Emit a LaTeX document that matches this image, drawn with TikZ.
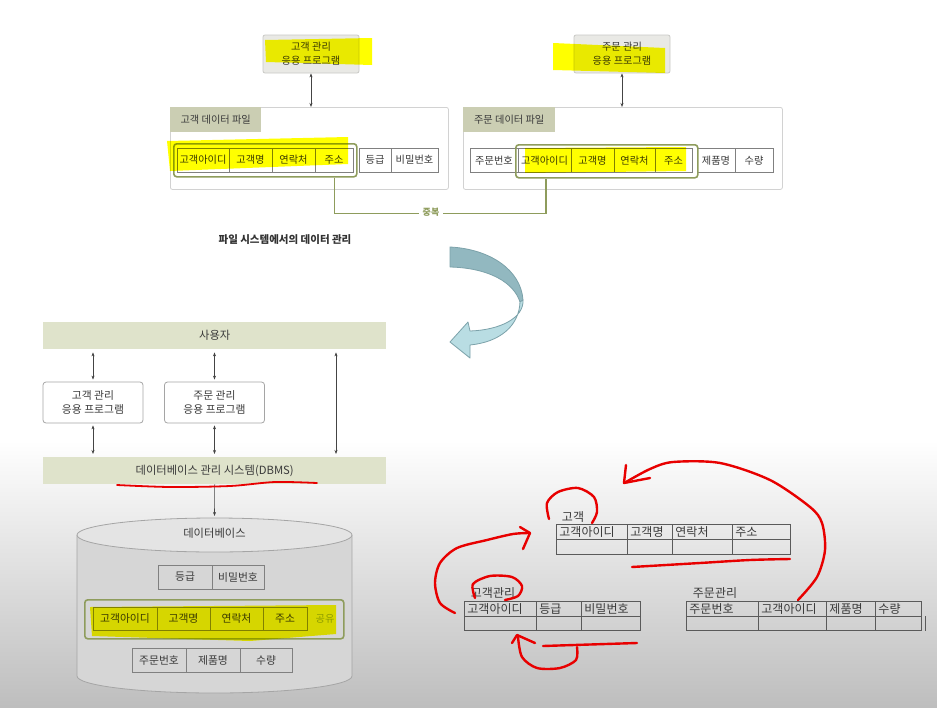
\documentclass[tikz,border=0pt]{standalone}
\usepackage{fontspec}
\newfontfamily\kr{Noto Sans CJK KR}
\usetikzlibrary{arrows.meta}
\definecolor{olivec}{HTML}{8E9C5C}
\definecolor{tabfill}{HTML}{CBCEB3}
\definecolor{barfill}{HTML}{DFE3CB}
\definecolor{appfill}{HTML}{E9E9E5}
\definecolor{appline}{HTML}{C9C9C6}
\definecolor{contline}{HTML}{D2D2D2}
\definecolor{txt}{HTML}{3A3A3A}
\definecolor{cellline}{HTML}{808080}
\definecolor{hlyellow}{HTML}{FFFF00}
\definecolor{penred}{HTML}{E80000}
\definecolor{arrowc}{HTML}{444444}
\definecolor{bgbot}{HTML}{BEBEBE}
\definecolor{cylside}{HTML}{D6D6D6}
\definecolor{cyltop}{HTML}{E4E4E4}
\definecolor{cylline}{HTML}{A5A5A5}
\definecolor{tealdark}{HTML}{92B8C0}
\definecolor{teallight}{HTML}{B9DDE3}
\definecolor{tealline}{HTML}{7CA2AA}
\definecolor{tline}{HTML}{5A5A5A}
\newcommand\fsA{\fontsize{10.2}{14}\selectfont}
\newcommand\fsB{\fontsize{10.8}{14.5}\selectfont}
\newcommand\fsC{\fontsize{12}{13}\selectfont}
\newcommand\fsD{\fontsize{11.3}{13}\selectfont}
\begin{document}
\begin{tikzpicture}[x=1pt,y=-1pt,
  every node/.style={font=\kr\fsA, text=txt},
  appbox/.style={draw=appline, fill=appfill, rounded corners=2, minimum width=96, minimum height=38, align=center, line width=0.8, inner sep=0},
  appbox2/.style={draw=cylline, fill=white, rounded corners=3, minimum width=100, minimum height=41, align=center, line width=0.8, inner sep=0, font=\kr\fsB},
  container/.style={draw=contline, fill=white, rounded corners=2, line width=0.8, inner sep=0},
  tabbox/.style={fill=tabfill, minimum width=91, minimum height=25, inner sep=0},
  cell/.style={draw=cellline, line width=0.8, minimum height=24, inner sep=0},
  dbcell/.style={draw=cellline, line width=0.8, minimum height=24, inner sep=0, font=\kr\fsB},
  grp/.style={draw=olivec, line width=1.6, rounded corners=3, inner sep=0},
  bar/.style={fill=barfill, minimum width=343, minimum height=27, inner sep=0, font=\kr\fsD, anchor=north west},
  dbl/.style={{Stealth[length=4pt,width=3pt]}-{Stealth[length=4pt,width=3pt]}, draw=arrowc, line width=0.6},
  sgl/.style={-{Stealth[length=4pt,width=3pt]}, draw=arrowc, line width=0.6},
  hl/.style={fill=hlyellow},
  pen/.style={draw=penred, line width=2.4, line cap=round, line join=round},
  tcell/.style={draw=tline, line width=0.9, minimum height=15, inner ysep=0, inner xsep=3, align=left, font=\kr\fsC, anchor=north west},
  tlabel/.style={font=\kr\fsC, inner sep=0}
]
\useasboundingbox (0,0) rectangle (937,707);
\fill[white] (0,0) rectangle (937,707);
\fill[top color=white, bottom color=bgbot] (0,440) rectangle (937,707);

% ---------- top left ----------
\node[appbox] (appL) at (311,54) {고객 관리\\응용 프로그램};
\node[container, minimum width=278, minimum height=82, anchor=north west] (cL) at (170,107) {};
\node[tabbox, anchor=north west] (tL) at (170,107) {고객 데이터 파일};
\draw[dbl] (appL.south) -- (appL.south |- cL.north);
\node[cell, minimum width=52] (l1) at (203,160) {고객아이디};
\node[cell, minimum width=43] (l2) at (250.5,160) {고객명};
\node[cell, minimum width=43] (l3) at (293.5,160) {연락처};
\node[cell, minimum width=38] (l4) at (334,160) {주소};
\node[cell, minimum width=32] (l5) at (375,160) {등급};
\node[cell, minimum width=47] (l6) at (414.5,160) {비밀번호};
\node[grp, minimum width=183, minimum height=33, anchor=north west] (gL) at (173,143) {};

% ---------- top right ----------
\node[appbox] (appR) at (622,54) {주문 관리\\응용 프로그램};
\node[container, minimum width=319, minimum height=82, anchor=north west] (cR) at (463,107) {};
\node[tabbox, minimum width=92, anchor=north west] (tR) at (463,107) {주문 데이터 파일};
\draw[dbl] (appR.south) -- (appR.south |- cR.north);
\node[cell, minimum width=48] (r1) at (494,160.5) {주문번호};
\node[cell, minimum width=53] (r2) at (544.5,160.5) {고객아이디};
\node[cell, minimum width=43] (r3) at (592.5,160.5) {고객명};
\node[cell, minimum width=41] (r4) at (634.5,160.5) {연락처};
\node[cell, minimum width=37] (r5) at (673.5,160.5) {주소};
\node[cell, minimum width=38] (r6) at (716,160.5) {제품명};
\node[cell, minimum width=38] (r7) at (754,160.5) {수량};
\node[grp, minimum width=182, minimum height=33, anchor=north west] (gR) at (515,144) {};

% duplication connector
\draw[olivec, line width=1.6] ([xshift=69]gL.south) -- ++(0,36) -| ([xshift=-61]gR.south);
\node[fill=white, text=olivec, font=\kr\bfseries\fontsize{9}{10}\selectfont, inner sep=4] (dup) at (431,212) {중복};

\node[font=\kr\bfseries\fontsize{10.5}{12}\selectfont, text=black!80] (cap) at (285,240) {파일 시스템에서의 데이터 관리};

% highlights top
\begin{scope}[blend mode=multiply]
\fill[hl] (265,40) -- (372,38) -- (372,65) -- (266,62) -- cycle;
\fill[hl] (167,141) -- (348,137) -- (348,164) -- (170,171) -- cycle;
\fill[hl] (553,43) -- (665,48) -- (665,73) -- (553,70) -- cycle;
\fill[hl] (525,148) -- (686,147) -- (686,171) -- (525,173) -- cycle;
\end{scope}

% ---------- teal curved arrow ----------
\fill[tealdark, draw=tealline, line width=0.8, line join=round]
  (450,247) .. controls (490,249) and (521,270) .. (523,300)
  -- (520,302) .. controls (514,283) and (490,268) .. (450,267) -- cycle;
\fill[teallight, draw=tealline, line width=0.8, line join=round]
  (523,300) .. controls (524,318) and (500,330) .. (470,331)
  -- (468,322) -- (450,342) -- (470,358) -- (470,345)
  .. controls (500,342) and (519,326) .. (520,302) -- cycle;

% ---------- bottom left ----------
\node[bar] (user) at (43,322) {사용자};
\node[appbox2] (appA) at (93,402.5) {고객 관리\\응용 프로그램};
\node[appbox2] (appB) at (214.5,402.5) {주문 관리\\응용 프로그램};
\node[bar] (dbms) at (43,457) {데이터베이스 관리 시스템(DBMS)};
\coordinate (rx) at (336,0);
\draw[dbl, shorten <=3, shorten >=2] (user.south -| appA.north) -- (appA.north);
\draw[dbl, shorten <=3, shorten >=2] (user.south -| appB.north) -- (appB.north);
\draw[dbl, shorten <=2, shorten >=3] (appA.south) -- (dbms.north -| appA.south);
\draw[dbl, shorten <=2, shorten >=3] (appB.south) -- (dbms.north -| appB.south);
\draw[dbl, shorten <=3, shorten >=3] (user.south -| rx) -- (dbms.north -| rx);

% cylinder
\fill[cylside] (77,535) rectangle (352,676);
\fill[cylside] (214.5,676) ellipse[x radius=137.5, y radius=17];
\draw[cylline, line width=0.8] (77,535) -- (77,676) arc[start angle=180, end angle=0, x radius=137.5, y radius=17] -- (352,535);
\filldraw[fill=cyltop, draw=cylline, line width=0.8] (214.5,535) ellipse[x radius=137.5, y radius=17];
\coordinate (dbtop) at (214.5,516);
\draw[sgl] (dbms.south) -- (dbtop);
\node[font=\kr\fsD] (dbl) at (214.5,533) {데이터베이스};

\node[dbcell, minimum width=54] (d1) at (185,577) {등급};
\node[dbcell, minimum width=52] (d2) at (238,577) {비밀번호};
\node[dbcell, minimum width=64, minimum height=23] (d3) at (125,618.5) {고객아이디};
\node[dbcell, minimum width=53, minimum height=23] (d4) at (183.5,618.5) {고객명};
\node[dbcell, minimum width=53, minimum height=23] (d5) at (236.5,618.5) {연락처};
\node[dbcell, minimum width=44, minimum height=23] (d6) at (285,618.5) {주소};
\node[grp, minimum width=259, minimum height=39, anchor=north west] (gD) at (84,599) {};
\node[text=olivec, font=\kr\fsA] (share) at (325,619) {공유};
\node[dbcell, minimum width=54] (d7) at (159,660) {주문번호};
\node[dbcell, minimum width=54] (d8) at (213,660) {제품명};
\node[dbcell, minimum width=52] (d9) at (266,660) {수량};

\begin{scope}[blend mode=multiply]
\fill[hl] (90,607) -- (336,605) -- (336,634) -- (250,641) -- (92,636) -- cycle;
\end{scope}

% ---------- bottom right tables ----------
\node[tlabel] (tg) at (573,517) {고객};
\node[tcell, text width=65pt] (g1) at (556,524) {고객아이디};
\node[tcell, text width=39pt] (g2) at (627,524) {고객명};
\node[tcell, text width=54pt] (g3) at (672,524) {연락처};
\node[tcell, text width=52pt] (g4) at (732,524) {주소};
\node[tcell, text width=65pt] (g5) at (556,539) {};
\node[tcell, text width=39pt] (g6) at (627,539) {};
\node[tcell, text width=54pt] (g7) at (672,539) {};
\node[tcell, text width=52pt] (g8) at (732,539) {};

\node[tlabel] (tk) at (493,593) {고객관리};
\node[tcell, text width=66pt] (k1) at (464,601) {고객아이디};
\node[tcell, text width=39pt] (k2) at (536,601) {등급};
\node[tcell, text width=53pt] (k3) at (581,601) {비밀번호};
\node[tcell, text width=66pt, minimum height=14] (k4) at (464,616) {};
\node[tcell, text width=39pt, minimum height=14] (k5) at (536,616) {};
\node[tcell, text width=53pt, minimum height=14] (k6) at (581,616) {};

\node[tlabel] (tj) at (715,593) {주문관리};
\node[tcell, text width=66pt] (j1) at (686,601) {주문번호};
\node[tcell, text width=62pt] (j2) at (758,601) {고객아이디};
\node[tcell, text width=43pt] (j3) at (826,601) {제품명};
\node[tcell, text width=40pt] (j4) at (875,601) {수량};
\node[tcell, text width=66pt, minimum height=14] (j5) at (686,616) {};
\node[tcell, text width=62pt, minimum height=14] (j6) at (758,616) {};
\node[tcell, text width=43pt, minimum height=14] (j7) at (826,616) {};
\node[tcell, text width=40pt, minimum height=14] (j8) at (875,616) {};
\draw[tline, line width=0.8] ([xshift=3]j8.north east) -- ([xshift=3]j8.south east);

% ---------- red pen marks ----------
\draw[pen, line width=1.8] plot[smooth] coordinates {(117,485) (170,487) (230,486) (275,482) (317,483)};
\draw[pen] plot[smooth] coordinates {(549,519) (547,503) (558,492) (578,488) (594,497) (597,512) (592,523)};
\draw[pen] plot[smooth] coordinates {(475,598) (473,584) (490,576) (512,577) (522,586) (518,596) (505,600)};
\draw[pen] plot[smooth] coordinates {(632,567) (700,563) (750,560) (790,559)};
\draw[pen] plot[smooth] coordinates {(798,600) (817,577) (825,550) (822,523) (810,507) (770,480) (720,463) (673,462) (650,469) (626,482)};
\draw[pen] (626,465) -- (624,483) -- (650,478);
\draw[pen] plot[smooth] coordinates {(455,613) (440,603) (435,583) (440,563) (457,548) (487,540) (513,534) (530,533)};
\draw[pen] (520,527) -- (530,533) -- (523,549);
\draw[pen] (637,643) -- (543,646);
\draw[pen] plot[smooth] coordinates {(577,647) (576,660) (560,668) (537,668) (522,657) (518,637)};
\draw[pen] (512,643) -- (517,635) -- (535,643);
\end{tikzpicture}
\end{document}
